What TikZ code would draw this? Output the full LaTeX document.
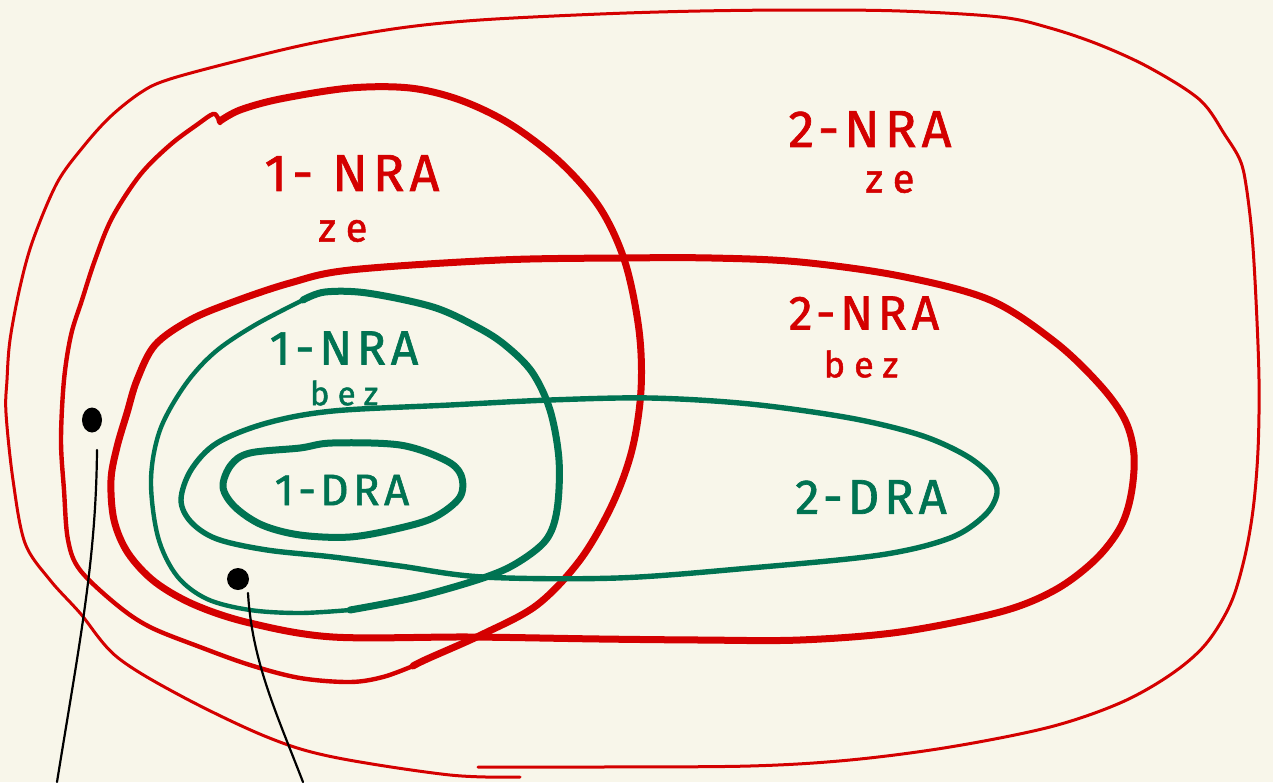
\documentclass[tikz,border=0pt]{standalone}
\usepackage{fontspec}
\usetikzlibrary{shapes.geometric}
\newfontfamily\hand[LetterSpace=10,FakeBold=1.3]{Fira Sans}
\newfontfamily\handw[LetterSpace=25,FakeBold=1.3]{Fira Sans}
\definecolor{bgc}{HTML}{F8F6EA}
\definecolor{rd}{HTML}{D40000}
\definecolor{gr}{HTML}{007352}
\tikzset{
  redthin/.style={draw=rd, line width=3pt, line cap=round, line join=round},
  redmid/.style={draw=rd, line width=4.4pt, line cap=round, line join=round},
  redthick/.style={draw=rd, line width=7pt, line cap=round, line join=round},
  grthick/.style={draw=gr, line width=7pt, line cap=round, line join=round},
  grmid/.style={draw=gr, line width=5.4pt, line cap=round, line join=round},
  grthin/.style={draw=gr, line width=4.4pt, line cap=round, line join=round},
  blk/.style={draw=black, line width=2.2pt, line cap=round},
  redlbl/.style={text=rd, font=\hand\fontsize{#1}{#1}\selectfont, inner sep=0pt},
  grlbl/.style={text=gr, font=\hand\fontsize{#1}{#1}\selectfont, inner sep=0pt},
  redsm/.style={text=rd, font=\handw\fontsize{#1}{#1}\selectfont, inner sep=0pt},
  grsm/.style={text=gr, font=\handw\fontsize{#1}{#1}\selectfont, inner sep=0pt},
}
\begin{document}
\begin{tikzpicture}[x=1pt,y=-1pt]
\fill[bgc] (0,0) rectangle (1273,782);
\useasboundingbox (0,0) rectangle (1273,782);

% outermost thin red (2-NRA ze)
\draw[redthin] plot[smooth, tension=0.55] coordinates {
 (478,767) (600,767) (750,766) (850,760) (950,747) (1050,727) (1120,703)
 (1170,675) (1205,645) (1230,605) (1244,560) (1253,510) (1258,450)
 (1259,380) (1256,300) (1252,235) (1246,185) (1240,160) (1225,135)
 (1200,100) (1150,68) (1100,45) (1050,28) (1000,17) (900,11) (800,10)
 (700,11) (600,14) (480,20) (400,28) (313,43) (233,62) (167,80) (140,93)
 (110,117) (83,147) (57,183) (33,240) (20,287) (10,340) (7,380) (6,413)
 (13,480) (25,543) (50,580) (80,613) (117,657) (183,697) (267,737)
 (333,757) (450,775) (520,777)};

% 1-NRA ze loop: thick part
\draw[redthick] plot[smooth, tension=0.55] coordinates {
 (220,121) (240,110) (280,99) (350,88) (410,88) (460,100) (510,124)
 (560,162) (600,208) (625,262) (639,330) (641,390) (632,450) (612,505)
 (580,560) (537,605) (483,634) (427,659) (413,666)};
% 1-NRA ze loop: thin part
\draw[redmid] plot[smooth, tension=0.55] coordinates {
 (413,666) (383,677) (350,682) (300,678) (250,665) (200,647) (150,627)
 (117,605) (80,570) (68,540) (64,490) (61,440) (64,380) (71,335)
 (82,300) (95,260) (112,218) (140,175) (170,145) (198,124) (213,114)
 (218,118) (220,123)};

% 2-NRA bez loop (thick red)
\draw[redthick] plot[smooth cycle, tension=0.55] coordinates {
 (137,380) (155,345) (190,320) (233,302) (290,283) (350,270) (500,260)
 (620,258) (712,258) (800,262) (900,276) (990,300) (1055,342) (1100,385)
 (1125,420) (1134,455) (1131,495) (1120,528) (1095,560) (1055,590)
 (1000,612) (900,632) (800,640) (700,640) (600,639) (470,637)
 (333,637) (250,623) (195,605) (155,582) (128,553) (114,520) (111,480)
 (117,447) (127,413)};

% 1-NRA bez (green) thick top/right part
\draw[grthick] plot[smooth, tension=0.55] coordinates {
 (303,300) (325,292) (367,293) (433,307) (477,327) (505,345) (532,372)
 (550,410) (559,460) (557,510) (546,540) (517,563) (483,578) (417,597)
 (350,610)};
% 1-NRA bez (green) thinner left part
\draw[grthin] plot[smooth, tension=0.55] coordinates {
 (350,610) (300,613) (250,610) (207,599) (177,576) (158,537) (151,480)
 (160,430) (185,385) (215,352) (255,325) (303,300)};

% 2-DRA loop
\draw[grmid] plot[smooth cycle, tension=0.55] coordinates {
 (450,405) (550,400) (650,398) (750,404) (850,418) (920,435) (965,455)
 (990,475) (997,493) (985,515) (950,538) (880,555) (750,568) (617,578)
 (483,577) (400,566) (333,557) (267,550) (217,539) (191,522) (181,500)
 (191,470) (217,443) (267,423) (333,411)};

% 1-DRA loop
\draw[grthick] plot[smooth cycle, tension=0.55] coordinates {
 (250,453) (300,448) (332,443) (400,445) (445,460) (461,475) (460,497)
 (435,517) (400,528) (350,537) (300,535) (262,525) (235,507) (223,487)
 (231,465)};

% dots and lines
\node[fill=black, ellipse, minimum width=20pt, minimum height=25pt, inner sep=0pt] (d1) at (92,420) {};
\node[fill=black, circle, minimum size=22pt, inner sep=0pt] (d2) at (238,579) {};
\coordinate (l1a) at (97,450);
\coordinate (l1b) at (57,782);
\coordinate (l2a) at (248,593);
\coordinate (l2b) at (303,782);
\draw[blk] (l1a) .. controls (96,560) and (80,640) .. (l1b);
\draw[blk] (l2a) .. controls (252,660) and (275,710) .. (l2b);

% labels
\node[redlbl=52] (t1) at (352,173) {1- NRA};
\node[redsm=40] (t2) at (343,231) {ze};
\node[redlbl=52] (t3) at (870,129) {2-NRA};
\node[redsm=40] (t4) at (890,182) {ze};
\node[redlbl=48] (t5) at (864,313) {2-NRA};
\node[redsm=36] (t6) at (861,364) {bez};
\node[grlbl=48] (t7) at (344,348) {1-NRA};
\node[grsm=33] (t8) at (344,393) {bez};
\node[grlbl=44] (t9) at (342,490) {1-DRA};
\node[grlbl=49] (t10) at (871,497) {2-DRA};
\end{tikzpicture}
\end{document}
